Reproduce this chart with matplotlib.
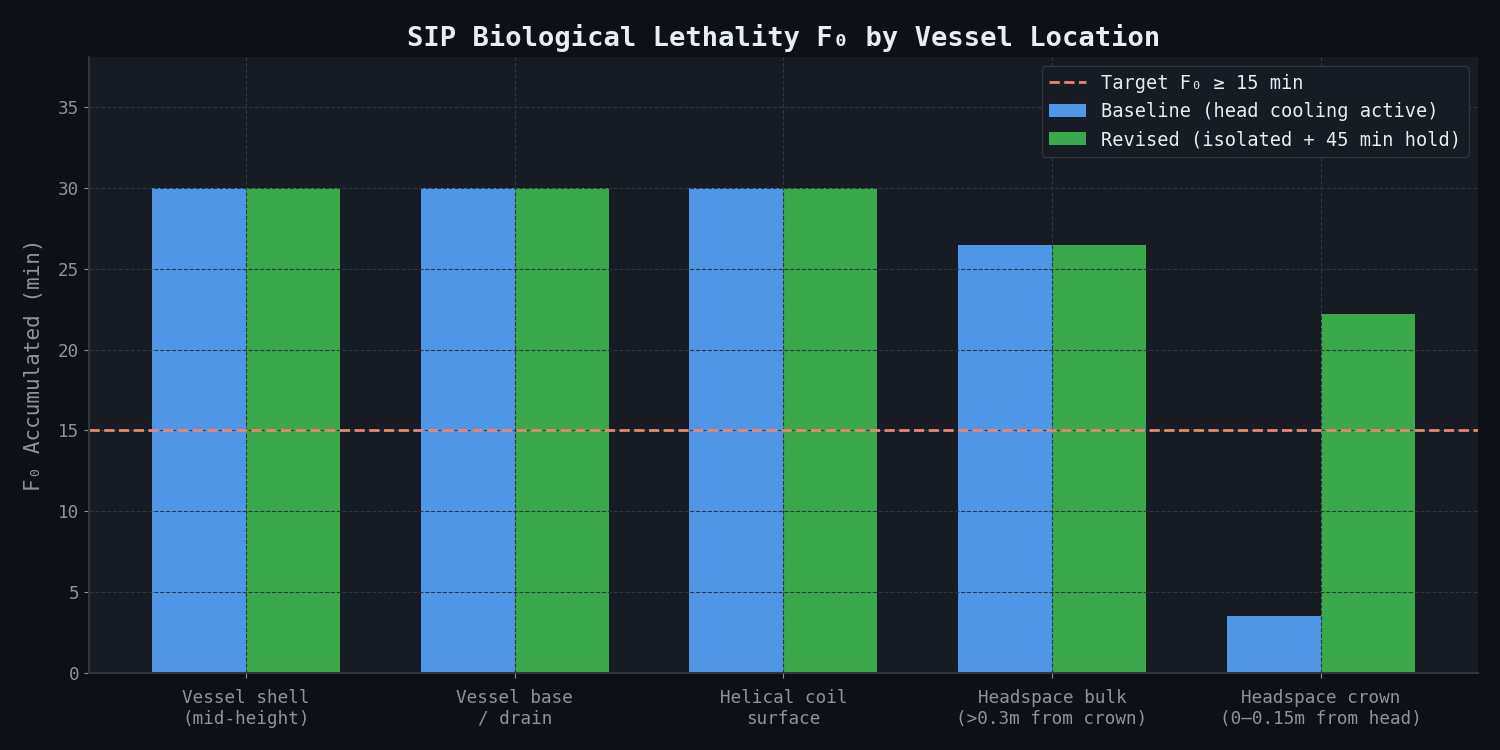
import matplotlib.pyplot as plt
import numpy as np

# data
locations = ['Vessel shell\n(mid-height)', 'Vessel base\n/ drain', 'Helical coil\nsurface',
             'Headspace bulk\n(>0.3m from crown)', 'Headspace crown\n(0\u20130.15m from head)']
baseline = [30.0, 30.0, 30.0, 26.5, 3.5]
revised = [30.0, 30.0, 30.0, 26.5, 22.2]
target = 15

plt.rcParams['font.family'] = ['DejaVu Sans Mono', 'DejaVu Sans']

fig, ax = plt.subplots(figsize=(15, 7.5), dpi=100)
fig.patch.set_facecolor('#0d1017')
ax.set_facecolor('#171b24')

x = np.arange(len(locations))
w = 0.35
ax.bar(x - w / 2, baseline, w, color='#4f97e6', label='Baseline (head cooling active)')
ax.bar(x + w / 2, revised, w, color='#3aa84b', label='Revised (isolated + 45 min hold)')
ax.axhline(target, color='#e8866f', linestyle='--', linewidth=2, label='Target F\u2080 \u2265 15 min')

ax.set_ylim(0, 38.1)
ax.set_xticks(x)
ax.set_xticklabels(locations, fontsize=12.7, color='#8b949e')
ax.tick_params(axis='y', colors='#8b949e', labelsize=12.7)
ax.tick_params(axis='x', colors='#8b949e', pad=8)
ax.set_ylabel('F\u2080 Accumulated (min)', fontsize=15, color='#8b949e', labelpad=10)
ax.set_title('SIP Biological Lethality F\u2080 by Vessel Location', fontsize=19.5,
             fontweight='bold', color='#e6edf3', pad=8)

ax.grid(True, color='#30363f', linestyle='--', linewidth=0.8)
for s in ['top', 'right']:
    ax.spines[s].set_visible(False)
for s in ['left', 'bottom']:
    ax.spines[s].set_color('#30363d')
    ax.spines[s].set_linewidth(1.5)

leg = ax.legend(loc='upper right', fontsize=13.4, facecolor='#171b24', edgecolor='#30363d',
                labelcolor='#e6edf3', framealpha=1)

fig.subplots_adjust(left=0.0593, right=0.9853, top=0.924, bottom=0.1027)
plt.savefig('out.png', facecolor=fig.get_facecolor())
